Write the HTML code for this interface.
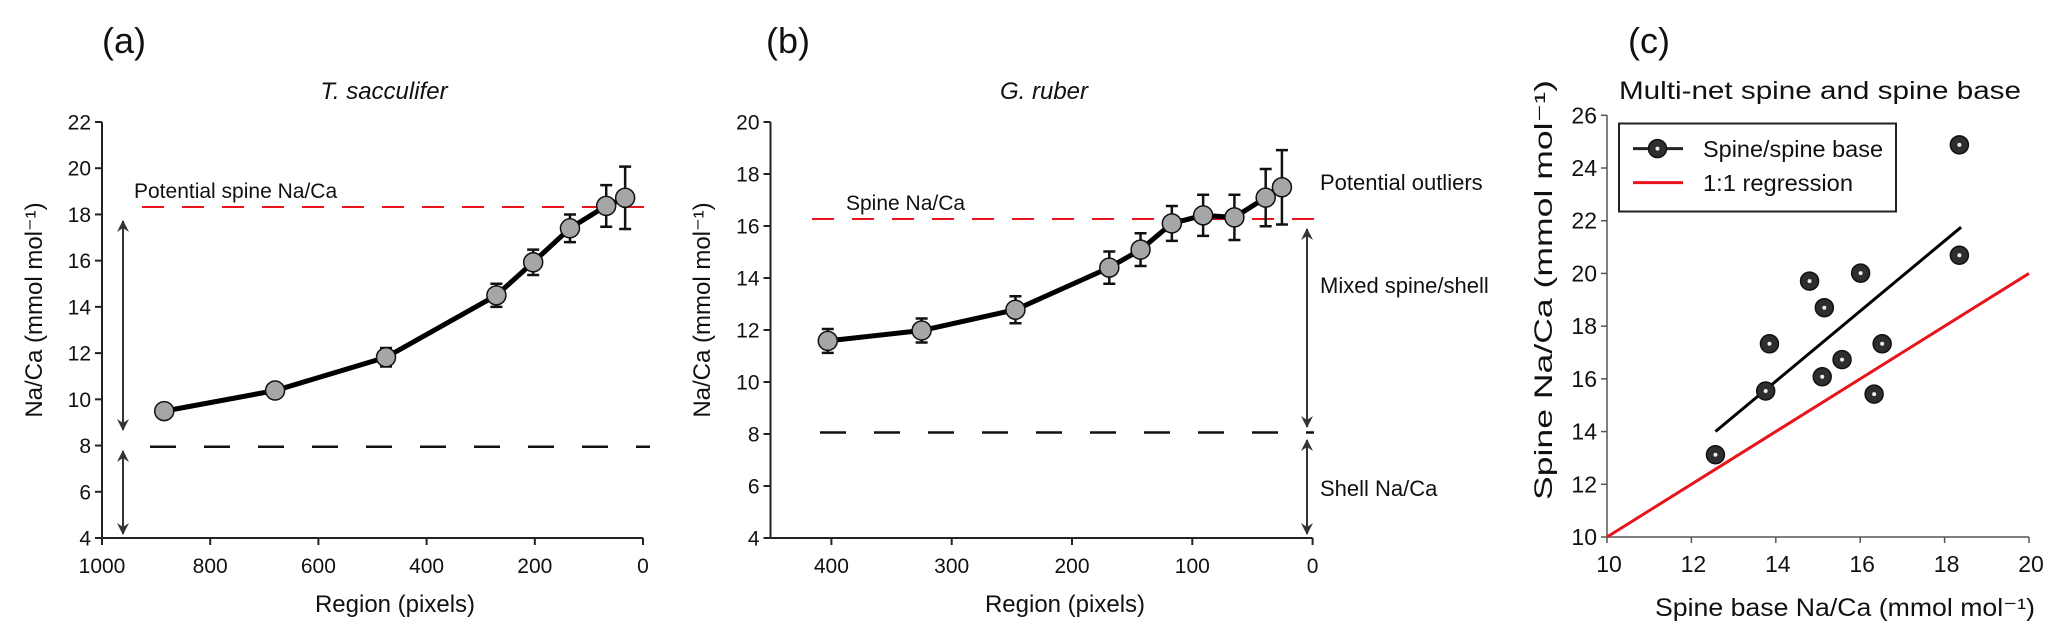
<!DOCTYPE html>
<html><head><meta charset="utf-8"><style>
html,body{margin:0;padding:0;background:#fff}
svg{display:block}
text{font-family:"Liberation Sans",sans-serif;fill:#111}
.calibri{font-family:"Liberation Sans Narrow","Liberation Sans",sans-serif}
</style></head><body>
<svg id="fig" width="2067" height="643" viewBox="0 0 2067 643" xmlns="http://www.w3.org/2000/svg">
<defs>
<marker id="ah" viewBox="0 0 12 12" refX="11" refY="6" markerWidth="12" markerHeight="12" markerUnits="userSpaceOnUse" orient="auto-start-reverse"><path d="M0,0 L12,6 L0,12 L4,6 Z" fill="#333"/></marker>
</defs>
<text x="102" y="53" font-size="36">(a)</text>
<text x="766" y="53" font-size="36">(b)</text>
<text x="1628" y="53" font-size="36">(c)</text>
<g id="pa"></g>
<g id="pb"></g>
<g id="pc"></g>
</svg>
<script>
// Panel (a) T. sacculifer
const aRegion=[885,680,475,271,203,135,68,33];
const aNaCa=[9.49,10.38,11.82,14.5,15.93,17.4,18.37,18.72];
const aErr=[0.25,0.3,0.4,0.5,0.55,0.6,0.9,1.35];
const aXTicks=[1000,800,600,400,200,0];
const aYTicks=[4,6,8,10,12,14,16,18,20,22];
const aSpine=[18.32];
const aShell=[7.95];
// Panel (b) G. ruber
const bRegion=[403,325,247,169,143,117,91,65,39,25.5];
const bNaCa=[11.58,11.98,12.78,14.4,15.09,16.1,16.41,16.33,17.09,17.49];
const bErr=[0.46,0.46,0.52,0.62,0.63,0.67,0.79,0.87,1.1,1.43];
const bXTicks=[400,300,200,100,0];
const bYTicks=[4,6,8,10,12,14,16,18,20];
const bSpine=[16.27];
const bShell=[8.06];
// Panel (c) scatter
const cBase=[12.57,13.76,13.85,14.8,15.15,15.1,15.57,16.01,16.33,16.52,18.35,18.35];
const cSpine=[13.12,15.54,17.33,19.71,18.7,16.08,16.73,20.01,15.42,17.33,24.88,20.69];
const cXTicks=[10,12,14,16,18,20];
const cYTicks=[10,12,14,16,18,20,22,24,26];
const cFit=[1.332,-2.74]; // slope, intercept
const cFitRange=[12.57,18.39];
const cOneToOne=[10,20];

const NS="http://www.w3.org/2000/svg";
function mk(parent,tag,attrs,txt){const e=document.createElementNS(NS,tag);for(const k in attrs)e.setAttribute(k,attrs[k]);if(txt!==undefined)e.textContent=txt;parent.appendChild(e);return e;}

function linePanel(g,o){
  const X=v=>o.x0+(o.xMax-v)/o.xMax*(o.x1-o.x0);
  const Y=v=>o.y0-(v-o.yMin)/(o.yMax-o.yMin)*(o.y0-o.y1);
  let e;
  // axes
  e=mk(g,'path',{d:`M${o.axL},${Y(o.yMax)} L${o.axL},${o.y0} L${o.x1},${o.y0}`,fill:'none',stroke:'#222','stroke-width':2});
  
  
  o.yTicks.forEach(t=>{
    mk(g,'line',{x1:o.axL-7,x2:o.axL,y1:Y(t),y2:Y(t),stroke:'#222','stroke-width':2});
    e=mk(g,'text',{x:o.axL-11,y:Y(t)+7.5,'font-size':21,'text-anchor':'end','font-family':(t===10&&o.serif10)?'Liberation Serif, serif':'Liberation Sans, sans-serif'},String(t));
    
    
  });
  o.xTicks.forEach(t=>{
    mk(g,'line',{x1:X(t),x2:X(t),y1:o.y0,y2:o.y0+7,stroke:'#222','stroke-width':2});
    e=mk(g,'text',{x:X(t),y:o.y0+35,'font-size':21,'text-anchor':'middle','font-family':t===0?'Liberation Serif, serif':'Liberation Sans, sans-serif'},String(t));
    
    
  });
  e=mk(g,'text',{x:o.xlx,y:612,'font-size':24,'text-anchor':'middle'},'Region (pixels)');
  
  
  e=mk(g,'text',{x:0,y:0,'font-size':24,'text-anchor':'middle',transform:`translate(${o.ylx},310) rotate(-90)`},'Na/Ca (mmol mol\u207B\u00B9)');
  
  
  e=mk(g,'text',{x:o.tx,y:99,'font-size':24,'font-style':'italic','text-anchor':'middle'},o.title);
  
  
  // reference lines
  e=mk(g,'line',{x1:o.dashStart,x2:o.dashEnd,y1:Y(o.spine[0]),y2:Y(o.spine[0]),stroke:'#e8141c','stroke-width':2,'stroke-dasharray':'22 18'});
  
  
  e=mk(g,'line',{x1:o.dashStart+8,x2:o.dashEnd,y1:Y(o.shell[0]),y2:Y(o.shell[0]),stroke:'#111','stroke-width':2.5,'stroke-dasharray':'26 28'});
  
  
  e=mk(g,'text',{x:o.stx,y:Y(o.spine[0])-9,'font-size':21,'class':'calibri'},o.spineLabel);
  
  
  // arrows
  o.arrows.forEach(a=>{
    e=mk(g,'line',{x1:a[0],x2:a[0],y1:a[1],y2:a[2],stroke:'#333','stroke-width':2,'marker-start':'url(#ah)','marker-end':'url(#ah)'});
    
    
  });
  // series line
  const pts=o.xs.map((v,i)=>`${X(v)},${Y(o.ys[i])}`).join(' ');
  e=mk(g,'polyline',{points:pts,fill:'none',stroke:'#000','stroke-width':5,'stroke-linejoin':'round'});
  
  
  o.xs.forEach((v,i)=>{
    const cx=X(v),yt=Y(o.ys[i]+o.err[i]),yb=Y(o.ys[i]-o.err[i]);
    e=mk(g,'path',{d:`M${cx},${yt}V${yb}M${cx-6},${yt}H${cx+6}M${cx-6},${yb}H${cx+6}`,stroke:'#111','stroke-width':2.5,fill:'none'});
    
    
    e=mk(g,'circle',{cx:cx,cy:Y(o.ys[i]),r:9.5,fill:'#a6a6a6',stroke:'#111','stroke-width':1.5});
    
    
  });
}

linePanel(document.getElementById('pa'),{x0:102,x1:643,axL:102,xMax:1000,y0:538,y1:122,yMin:4,yMax:22,
  xTicks:aXTicks,yTicks:aYTicks,xs:aRegion,ys:aNaCa,err:aErr,spine:aSpine,shell:aShell,
  title:'T. sacculifer',tx:384,xlx:395,ylx:42,dashStart:142,dashEnd:650,stx:134,spineLabel:'Potential spine Na/Ca',
  arrows:[[123,221,430],[123,451,534]]});
linePanel(document.getElementById('pb'),{x0:1312.6-450*1.203,x1:1312.6,axL:770.5,xMax:450,y0:538,y1:122,yMin:4,yMax:20,
  xTicks:bXTicks,yTicks:bYTicks,xs:bRegion,ys:bNaCa,err:bErr,spine:bSpine,shell:bShell,serif10:true,
  title:'G. ruber',tx:1044,xlx:1065,ylx:710,dashStart:812,dashEnd:1314,stx:846,spineLabel:'Spine Na/Ca',
  arrows:[[1307,229,427],[1307,440,534]]});
(function(){
  const g=document.getElementById('pb');let e;
  [['Potential outliers',190],['Mixed spine/shell',293],['Shell Na/Ca',496]].forEach(t=>{
    e=mk(g,'text',{x:1320,y:t[1],'font-size':22,'class':'calibri'},t[0]);
    
    
  });
})();

// Panel c
(function(){
  const g=document.getElementById('pc');let e;
  const xL=1607,xR=2029,yB=537,yT=115.3;
  const X=v=>xL+(v-10)/10*(xR-xL);
  const Y=v=>yB-(v-10)/16*(yB-yT);
  e=mk(g,'path',{d:`M${xL},${yT} L${xL},${yB} L${xR},${yB}`,fill:'none',stroke:'#555','stroke-width':1.5});
  
  
  cYTicks.forEach(t=>{
    mk(g,'line',{x1:xL-6,x2:xL,y1:Y(t),y2:Y(t),stroke:'#555','stroke-width':1.5});
    e=mk(g,'text',{x:xL-10,y:Y(t)+8,'font-size':23,'text-anchor':'end','class':'calibri'},String(t));
    
    
  });
  cXTicks.forEach(t=>{
    mk(g,'line',{x1:X(t),x2:X(t),y1:yB,y2:yB+6,stroke:'#555','stroke-width':1.5});
    e=mk(g,'text',{x:X(t)+2,y:yB+35,'font-size':23,'text-anchor':'middle','class':'calibri'},String(t));
    
    
  });
  e=mk(g,'text',{x:1820,y:99,'font-size':25,'text-anchor':'middle','class':'calibri',textLength:402,lengthAdjust:'spacingAndGlyphs'},'Multi-net spine and spine base');
  
  
  e=mk(g,'text',{x:1845,y:616,'font-size':25,'text-anchor':'middle','class':'calibri',textLength:380,lengthAdjust:'spacingAndGlyphs'},'Spine base Na/Ca (mmol mol\u207B\u00B9)');
  
  
  e=mk(g,'text',{x:0,y:0,'font-size':25,'text-anchor':'middle',textLength:420,lengthAdjust:'spacingAndGlyphs',transform:'translate(1552,290) rotate(-90)'},'Spine  Na/Ca (mmol mol\u207B\u00B9)');
  
  
  e=mk(g,'line',{x1:X(cOneToOne[0]),y1:Y(cOneToOne[0]),x2:X(cOneToOne[1]),y2:Y(cOneToOne[1]),stroke:'#e8141c','stroke-width':3});
  
  
  e=mk(g,'line',{x1:X(cFitRange[0]),y1:Y(cFit[0]*cFitRange[0]+cFit[1]),x2:X(cFitRange[1]),y2:Y(cFit[0]*cFitRange[1]+cFit[1]),stroke:'#000','stroke-width':3});
  
  
  cBase.forEach((v,i)=>{
    e=mk(g,'circle',{cx:X(v),cy:Y(cSpine[i]),r:9,fill:'#2e2e2e',stroke:'#111','stroke-width':1.5});
    
    
    mk(g,'circle',{cx:X(v),cy:Y(cSpine[i]),r:2,fill:'#eee'});
  });
  const lg=mk(g,'g',{});
  
  
  mk(lg,'rect',{x:1619,y:123.5,width:277,height:88,fill:'#fff',stroke:'#222','stroke-width':2});
  mk(lg,'line',{x1:1633,x2:1683,y1:148.6,y2:148.6,stroke:'#222','stroke-width':3});
  mk(lg,'circle',{cx:1657.5,cy:148.6,r:9,fill:'#2e2e2e',stroke:'#111','stroke-width':1.5});
  mk(lg,'circle',{cx:1657.5,cy:148.6,r:2,fill:'#eee'});
  e=mk(lg,'text',{x:1703,y:157,'font-size':23,'class':'calibri',textLength:180,lengthAdjust:'spacingAndGlyphs'},'Spine/spine base');
  
  
  mk(lg,'line',{x1:1633,x2:1683,y1:182.6,y2:182.6,stroke:'#e8141c','stroke-width':3});
  e=mk(lg,'text',{x:1703,y:191,'font-size':23,'class':'calibri',textLength:150,lengthAdjust:'spacingAndGlyphs'},'1:1 regression');
  
  
})();
</script>
</body></html>
